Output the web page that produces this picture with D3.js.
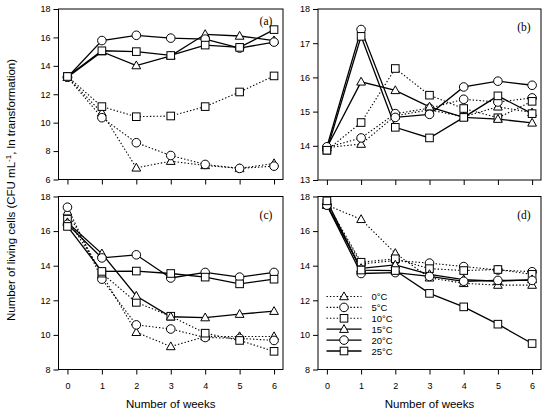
<!DOCTYPE html>
<html>
<head>
<meta charset="utf-8">
<script src="https://cdn.jsdelivr.net/npm/d3@7/dist/d3.min.js"></script>
<style>
  body { margin: 0; background: #fff; }
  text { font-family: "Liberation Sans", Arial, sans-serif; fill: #000; }
</style>
</head>
<body>
<div class="chart"></div>
<script>
// weeks on the x axis and the six storage temperatures
var weeks = [0, 1, 2, 3, 4, 5, 6];
var temps = ["0°C", "5°C", "10°C", "15°C", "20°C", "25°C"];

// one row per temperature (0, 5, 10, 15, 20, 25 °C), one value per week
var panelA = [
  [13.2, 10.7, 6.82, 7.29, 6.99, 6.78, 7.13],
  [13.2, 10.35, 8.59, 7.69, 7.06, 6.78, 6.94],
  [13.25, 11.13, 10.42, 10.47, 11.13, 12.16, 13.29],
  [13.2, 15.0, 14.02, 14.7, 16.22, 16.1, 15.78],
  [13.2, 15.78, 16.15, 15.95, 15.88, 15.25, 15.67],
  [13.25, 15.06, 15.0, 14.73, 15.46, 15.3, 16.55]
];
var panelB = [
  [13.95, 14.05, 14.88, 15.05, 14.85, 15.14, 14.97],
  [13.95, 14.23, 14.94, 15.1, 15.36, 15.28, 15.4],
  [13.87, 14.68, 16.26, 15.48, 15.09, 14.82, 15.3],
  [13.95, 15.87, 15.62, 15.14, 14.83, 14.78, 14.67],
  [13.97, 17.4, 14.83, 14.92, 15.72, 15.89, 15.77],
  [13.87, 17.2, 14.54, 14.23, 14.83, 15.46, 14.94]
];
var panelC = [
  [17.12, 13.5, 10.15, 9.33, 9.9, 9.91, 9.91],
  [17.38, 13.22, 10.58, 10.34, 9.85, 9.8, 9.68],
  [16.69, 13.57, 11.88, 11.08, 10.1, 9.68, 9.05],
  [16.5, 14.7, 12.25, 11.05, 11.0, 11.2, 11.37],
  [16.4, 14.45, 14.63, 13.29, 13.61, 13.34, 13.61],
  [16.27, 13.67, 13.69, 13.55, 13.34, 12.95, 13.22]
];
var panelD = [
  [17.5, 16.68, 14.72, 13.3, 12.98, 12.88, 12.88],
  [17.5, 14.1, 14.3, 14.15, 13.95, 13.75, 13.65],
  [17.6, 14.2, 14.4, 13.83, 13.72, 13.78, 13.5],
  [17.5, 13.85, 14.05, 13.5, 13.2, 13.1, 13.2],
  [17.5, 13.55, 13.6, 13.38, 13.1, 13.15, 13.15],
  [17.75, 13.75, 13.72, 12.4, 11.62, 10.62, 9.5]
];

// y tick values per panel
var yTicksA = [6, 8, 10, 12, 14, 16, 18];
var yTicksB = [13, 14, 15, 16, 17, 18];
var yTicksCD = [8, 10, 12, 14, 16, 18];

var svg = d3.select(".chart").append("svg")
  .attr("width", 550)
  .attr("height", 418);

// marker shapes: triangle, circle, square (repeats for solid series)
var shapes = ["triangle", "circle", "square", "triangle", "circle", "square"];

function drawMarker(g, shape, x, y) {
  if (shape == "circle") {
    g.append("circle").attr("cx", x).attr("cy", y).attr("r", 4.3)
      .attr("fill", "#fff").attr("stroke", "#000").attr("stroke-width", 1);
  } else if (shape == "square") {
    g.append("rect").attr("x", x - 3.8).attr("y", y - 3.8)
      .attr("width", 7.6).attr("height", 7.6)
      .attr("fill", "#fff").attr("stroke", "#000").attr("stroke-width", 1);
  } else {
    var s = 4.6;
    g.append("path")
      .attr("d", `M${x},${y - s}L${x + s * 0.95},${y + s * 0.7}L${x - s * 0.95},${y + s * 0.7}Z`)
      .attr("fill", "#fff").attr("stroke", "#000").attr("stroke-width", 1);
  }
}

var panels = [
  { data: panelA, ticks: yTicksA, tag: "(a)", left: 58.5, top: 9, w: 224.5, h: 170.5, xlabels: false, tagY: 21 },
  { data: panelB, ticks: yTicksB, tag: "(b)", left: 318, top: 9, w: 223, h: 171, xlabels: false, tagY: 27 },
  { data: panelC, ticks: yTicksCD, tag: "(c)", left: 58.5, top: 196.5, w: 224.5, h: 173, xlabels: true, tagY: 215 },
  { data: panelD, ticks: yTicksCD, tag: "(d)", left: 318, top: 196.5, w: 223, h: 173, xlabels: true, tagY: 215, legend: true }
];

panels.forEach(function(p) {
  var g = svg.append("g").attr("transform", `translate(${p.left},${p.top})`);

  var x = d3.scaleLinear().domain([-0.26, 6.26]).range([0, p.w]);
  var y = d3.scaleLinear().domain(d3.extent(p.ticks)).range([p.h, 0]);

  // axes with outward ticks
  var xAxis = d3.axisBottom(x).tickValues(weeks).tickSize(5).tickSizeOuter(0)
    .tickFormat(p.xlabels ? d3.format("d") : "");
  var yAxis = d3.axisLeft(y).tickValues(p.ticks).tickSize(5).tickSizeOuter(0)
    .tickFormat(d3.format("d"));

  var gx = g.append("g").attr("transform", `translate(0,${p.h})`).call(xAxis);
  var gy = g.append("g").call(yAxis);
  [gx, gy].forEach(function(a) {
    a.select(".domain").remove();
    a.selectAll("text").style("font-size", "9px").attr("fill", "#000");
    a.selectAll("line").attr("stroke", "#000");
  });
  gx.selectAll("text").attr("dy", "1.25em");
  gy.selectAll("text").attr("x", -8);

  // frame
  g.append("rect").attr("width", p.w).attr("height", p.h)
    .attr("fill", "none").attr("stroke", "#000").attr("stroke-width", 1);

  var line = d3.line().x((d, i) => x(weeks[i])).y(d => y(d));

  p.data.forEach(function(series, k) {
    g.append("path").datum(series)
      .attr("d", line)
      .attr("fill", "none")
      .attr("stroke", "#000")
      .attr("stroke-width", k < 3 ? 1.1 : 1.3)
      .attr("stroke-dasharray", k < 3 ? "1.4,2" : null);
  });
  p.data.forEach(function(series, k) {
    series.forEach(function(v, i) {
      drawMarker(g, shapes[k], x(weeks[i]), y(v));
    });
  });

  // panel tag
  g.append("text")
    .attr("x", p.w - 17)
    .attr("y", p.tagY - p.top + 4)
    .attr("text-anchor", "middle")
    .style("font-family", "'Liberation Serif', 'Times New Roman', serif")
    .style("font-size", "11.5px")
    .text(p.tag);

  if (p.xlabels) {
    g.append("text")
      .attr("x", p.w / 2)
      .attr("y", p.h + 38)
      .attr("text-anchor", "middle")
      .style("font-size", "11.5px")
      .text("Number of weeks");
  }

  // legend inside panel (d)
  if (p.legend) {
    var lg = g.append("g").attr("transform", "translate(8.5,100)");
    temps.forEach(function(t, k) {
      var ly = k * 10.9;
      lg.append("line").attr("x1", 0).attr("x2", 35).attr("y1", ly).attr("y2", ly)
        .attr("stroke", "#000")
        .attr("stroke-width", k < 3 ? 1.1 : 1.3)
        .attr("stroke-dasharray", k < 3 ? "1.4,2" : null);
      drawMarker(lg, shapes[k], 17.5, ly);
      lg.append("text").attr("x", 45).attr("y", ly + 3.5)
        .style("font-size", "9.5px").text(t);
    });
  }
});

// shared y axis title
var yTitle = svg.append("text")
  .attr("transform", "translate(14.5,190) rotate(-90)")
  .attr("text-anchor", "middle")
  .style("font-size", "11.5px");
yTitle.append("tspan").text("Number of living cells (CFU mL");
yTitle.append("tspan").attr("dy", -4).style("font-size", "8px").text("-1");
yTitle.append("tspan").attr("dy", 4).text(", ln transformation)");
</script>
</body>
</html>
